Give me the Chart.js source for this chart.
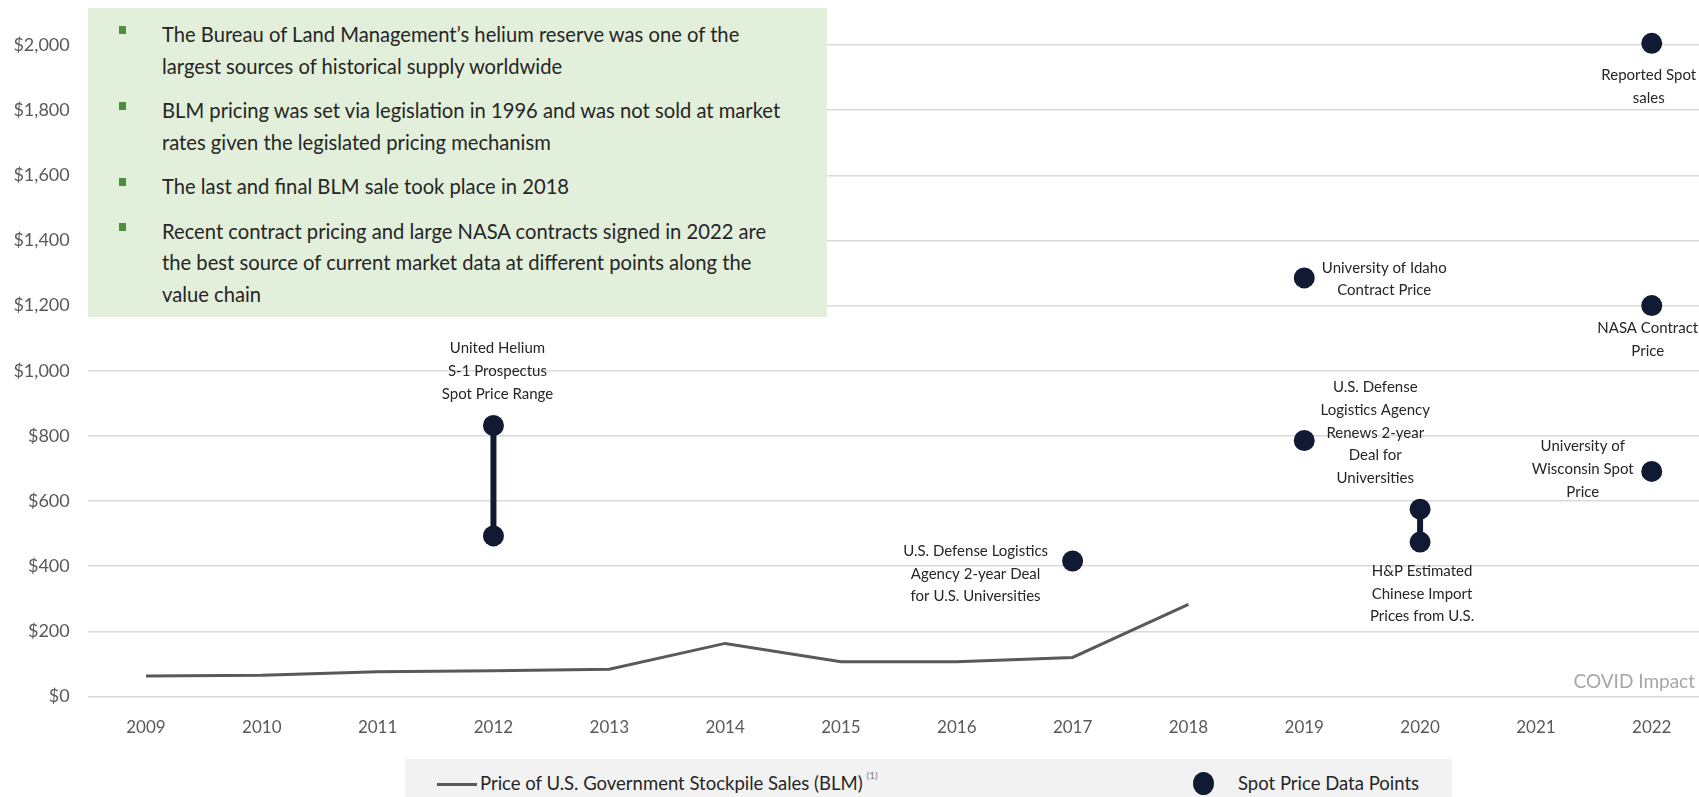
<!DOCTYPE html>
<html lang="en">
<head>
  <meta charset="UTF-8">
  <title>Helium Price History</title>
  <script src="https://cdn.jsdelivr.net/npm/chart.js"></script>
  <style>
    body { margin: 0; background: #fff; overflow: hidden; font-family: 'Lato', sans-serif; }
    .wrap { position: relative; width: 1699px; height: 797px; }
    canvas { position: absolute; left: 0; top: 0; }

    /* green call-out box */
    .notes-box {
      position: absolute; left: 88px; top: 8px; width: 739px; height: 309px;
      background: #e2efda; color: #262626; font-size: 20.2px; line-height: 31.5px;
      box-sizing: border-box; padding: 11px 0 0 74px;
    }
    .notes-box p { margin: 0 0 13px 0; position: relative; white-space: nowrap; }
    .notes-box p::before {
      content: ''; position: absolute; left: -43px; top: 7px;
      width: 7px; height: 8px; background: #4f8f3c;
    }

    /* legend band */
    .legend {
      position: absolute; left: 405px; top: 759px; width: 1047px; height: 38px;
      background: #f2f2f2; color: #262626; font-size: 18.5px;
    }
    .legend .line { position: absolute; left: 32px; top: 24px; width: 40px; height: 3px; background: #595959; }
    .legend .t1 { position: absolute; left: 75px; top: 13px; white-space: nowrap; }
    .legend sup { font-size: 10px; color: #7f7f7f; position: relative; top: -4px; margin-left: 4px; }
    .legend .dot { position: absolute; left: 788px; top: 13px; width: 21px; height: 23px; border-radius: 50%; background: #111a33; }
    .legend .t2 { position: absolute; left: 833px; top: 13px; white-space: nowrap; }
  </style>
</head>
<body>
<div class="wrap">
  <canvas id="helium-chart" width="1699" height="797"></canvas>

  <div class="notes-box">
    <p>The Bureau of Land Management’s helium reserve was one of the<br>largest sources of historical supply worldwide</p>
    <p>BLM pricing was set via legislation in 1996 and was not sold at market<br>rates given the legislated pricing mechanism</p>
    <p>The last and final BLM sale took place in 2018</p>
    <p>Recent contract pricing and large NASA contracts signed in 2022 are<br>the best source of current market data at different points along the<br>value chain</p>
  </div>

  <div class="legend">
    <div class="line"></div>
    <span class="t1">Price of U.S. Government Stockpile Sales (BLM)<sup>(1)</sup></span>
    <div class="dot"></div>
    <span class="t2">Spot Price Data Points</span>
  </div>
</div>

<script>
// years on the x axis
const years = [2009, 2010, 2011, 2012, 2013, 2014, 2015, 2016, 2017, 2018, 2019, 2020, 2021, 2022];
const yTicks = [0, 200, 400, 600, 800, 1000, 1200, 1400, 1600, 1800, 2000];

// BLM stockpile sale price, 2009-2018
const blmYears = [2009, 2010, 2011, 2012, 2013, 2014, 2015, 2016, 2017, 2018];
const blmPrice = [63, 65, 76, 79, 84, 163, 107, 107, 120, 283];

// spot price data points
const spotYears = [2012, 2012, 2017, 2019, 2019, 2020, 2020, 2022, 2022, 2022];
const spotPrice = [832, 493, 416, 1285, 786, 575, 474, 2005, 1200, 691];

// price ranges drawn as a bar between two points
const rangeYears = [2012, 2020];
const rangeLow = [493, 474];
const rangeHigh = [832, 575];

// callout text, and which spot point each one belongs to
const noteText = [
  ['United Helium', 'S-1 Prospectus', 'Spot Price Range'],
  ['U.S. Defense Logistics', 'Agency 2-year Deal', 'for U.S. Universities'],
  ['University of Idaho', 'Contract Price'],
  ['U.S. Defense', 'Logistics Agency', 'Renews 2-year', 'Deal for', 'Universities'],
  ['H&P Estimated', 'Chinese Import', 'Prices from U.S.'],
  ['Reported Spot', 'sales'],
  ['NASA Contract', 'Price'],
  ['University of', 'Wisconsin Spot', 'Price']
];
const notePoint = [0, 2, 3, 4, 6, 7, 8, 9];

const navy = '#111a33';
const tickGray = '#595959';

// pixel offsets of each callout (first line centre) from its point
const noteOffsets = [
  [4, -77], [-97, -10], [80, -10], [71, -53], [2, 29], [-3, 32], [-4, 23], [-69, -25]
];

const calloutPlugin = {
  id: 'callouts',
  afterDatasetsDraw(chart) {
    const ctx = chart.ctx;
    const xs = chart.scales.x, ys = chart.scales.y;
    ctx.save();
    ctx.font = '15px Lato';
    ctx.fillStyle = '#262626';
    ctx.textAlign = 'center';
    ctx.textBaseline = 'middle';
    noteText.forEach((lines, i) => {
      const p = notePoint[i];
      const px = xs.getPixelForValue(spotYears[p]) + noteOffsets[i][0];
      const py = ys.getPixelForValue(spotPrice[p]) + noteOffsets[i][1];
      lines.forEach((t, j) => ctx.fillText(t, px, py + j * 22.7));
    });
    // COVID label in the lower right corner
    ctx.font = '19px Lato';
    ctx.fillStyle = '#a6a6a6';
    ctx.textAlign = 'right';
    ctx.fillText('COVID Impact', chart.chartArea.right - 4, ys.getPixelForValue(0) - 15);
    ctx.restore();
  }
};

const rangeSets = rangeYears.map((yr, i) => ({
  type: 'line',
  data: [{ x: yr, y: rangeLow[i] }, { x: yr, y: rangeHigh[i] }],
  borderColor: navy,
  borderWidth: 6,
  pointRadius: 0,
  order: 3
}));

const ctx = document.getElementById('helium-chart').getContext('2d');
new Chart(ctx, {
  type: 'line',
  data: {
    datasets: [
      {
        label: 'Price of U.S. Government Stockpile Sales (BLM)',
        data: blmYears.map((yr, i) => ({ x: yr, y: blmPrice[i] })),
        borderColor: tickGray,
        borderWidth: 3,
        pointRadius: 0,
        tension: 0,
        order: 2
      },
      ...rangeSets,
      {
        label: 'Spot Price Data Points',
        data: spotYears.map((yr, i) => ({ x: yr, y: spotPrice[i] })),
        showLine: false,
        pointRadius: 10.5,
        pointBackgroundColor: navy,
        pointBorderWidth: 0,
        clip: false,
        order: 1
      }
    ]
  },
  options: {
    responsive: false,
    animation: false,
    layout: { autoPadding: false, padding: { top: 45, right: 0, left: 0, bottom: 0 } },
    plugins: {
      legend: { display: false },
      tooltip: { enabled: false }
    },
    scales: {
      x: {
        type: 'linear',
        min: 2008.497,
        max: 2022.408,
        afterBuildTicks: s => { s.ticks = years.map(v => ({ value: v })); },
        afterFit: s => { s.height = 100.5; s.paddingLeft = 0; s.paddingRight = 0; },
        grid: { display: false, drawTicks: false },
        border: { display: false },
        ticks: {
          callback: v => String(v),
          color: tickGray,
          font: { family: 'Lato', size: 17 },
          padding: 21,
          maxRotation: 0,
          autoSkip: false
        }
      },
      y: {
        min: 0,
        max: 2000,
        afterBuildTicks: s => { s.ticks = yTicks.map(v => ({ value: v })); },
        afterFit: s => { s.width = 87.7; s.paddingTop = 0; s.paddingBottom = 0; },
        grid: { color: '#d9d9d9', lineWidth: 1.5, drawTicks: false },
        border: { display: false },
        ticks: {
          callback: v => '$' + v.toLocaleString('en-US'),
          color: tickGray,
          font: { family: 'Lato', size: 18 },
          padding: 18
        }
      }
    }
  },
  plugins: [calloutPlugin]
});
</script>
</body>
</html>
